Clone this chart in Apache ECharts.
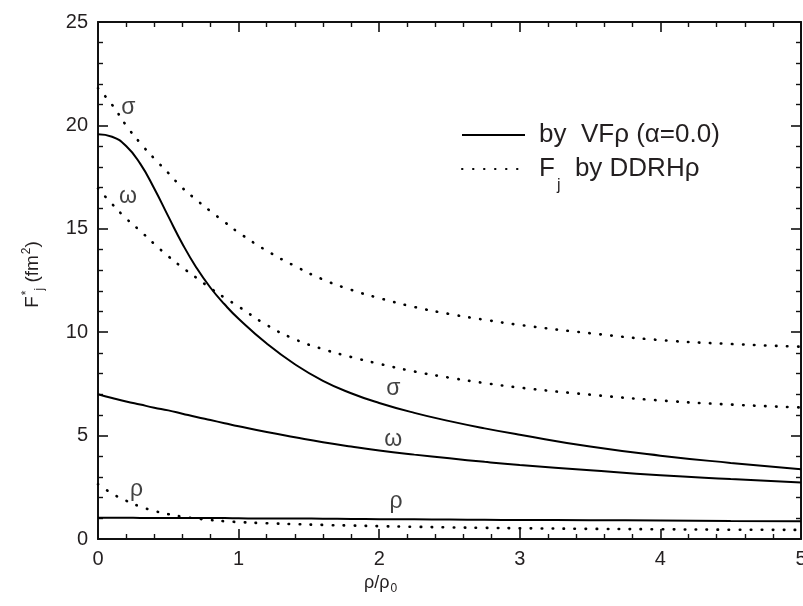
<!DOCTYPE html>
<html>
<head>
<meta charset="utf-8">
<script src="https://cdn.jsdelivr.net/npm/echarts@6/dist/echarts.min.js"></script>
<style>
html,body{margin:0;padding:0;background:#fff;}
#chart{width:803px;height:606px;}
</style>
</head>
<body>
<div id="chart"></div>
<script>
// x = rho/rho0
const xs = [0,0.1,0.2,0.3,0.4,0.5,0.6,0.7,0.8,0.9,1.0,1.2,1.4,1.6,1.8,2.0,2.25,2.5,2.75,3.0,3.5,4.0,4.5,5.0];
// solid: by VF rho (alpha = 0.0)
const sigmaVF = [19.57,19.45,19.0,18.15,16.95,15.6,14.28,13.12,12.15,11.35,10.65,9.45,8.45,7.65,7.05,6.58,6.1,5.7,5.35,5.04,4.47,4.03,3.68,3.37];
const omegaVF = [7.0,6.82,6.65,6.5,6.35,6.22,6.06,5.9,5.75,5.6,5.45,5.17,4.92,4.68,4.47,4.28,4.08,3.9,3.73,3.58,3.32,3.08,2.9,2.73];
const rhoVF   = [1.03,1.03,1.03,1.02,1.02,1.02,1.02,1.01,1.01,1.01,1.0,0.99,0.99,0.98,0.97,0.96,0.95,0.94,0.93,0.92,0.91,0.89,0.87,0.86];
// dotted: F_j by DDRH rho
const sigmaDD = [21.8,21.0,20.0,19.15,18.4,17.7,16.98,16.4,15.85,15.33,14.82,13.94,13.2,12.55,12.05,11.65,11.22,10.88,10.6,10.35,9.95,9.62,9.43,9.3];
const omegaDD = [16.95,16.2,15.5,14.9,14.27,13.67,13.13,12.63,12.13,11.67,11.24,10.35,9.66,9.18,8.8,8.47,8.1,7.8,7.54,7.32,6.98,6.7,6.5,6.36];
const rhoDD   = [2.65,2.2,1.85,1.57,1.36,1.2,1.08,0.99,0.92,0.86,0.82,0.76,0.72,0.68,0.65,0.62,0.59,0.56,0.54,0.52,0.49,0.47,0.45,0.44];
// curve annotations [x, y, text]
const annotations = [[0.216,20.87,'σ'],[0.213,16.55,'ω'],[2.1,7.28,'σ'],[2.1,4.82,'ω'],[0.275,2.37,'ρ'],[2.12,1.8,'ρ']];
const legendSolid = 'by  VFρ (α=0.0)';
const legendDotted = '{a|F}{sub|j}{a|  by DDRHρ}';

const FONT = '"Liberation Sans", Arial, Helvetica, sans-serif';
const TXT = '#231f20';
const pair = arr => xs.map((x,i)=>[x,arr[i]]);

const solidStyle = {color:'#000', width:2, type:'solid'};
const dotStyle = {color:'#000', width:2.6, type:[0.5,10.5], cap:'round'};

function mkLine(name, arr, style){
  return {type:'line', name:name, data:pair(arr), symbol:'none', smooth:true,
    lineStyle:style, itemStyle:{color:'#000'}, silent:true, animation:false, z:3};
}

const axisCommon = {
  axisLine:{show:true, onZero:false, lineStyle:{color:'#111', width:2}},
  axisTick:{show:true, inside:true, length:10, lineStyle:{color:'#111', width:1.6}},
  minorTick:{show:true, splitNumber:5, length:5, lineStyle:{color:'#111', width:1.4}},
  splitLine:{show:false}, minorSplitLine:{show:false}
};

const legendCommon = {left:456, orient:'vertical', itemWidth:63, itemHeight:14, selectedMode:false,
  itemStyle:{opacity:0, borderWidth:0}};

const chart = echarts.init(document.getElementById('chart'), null, {renderer:'canvas'});
chart.setOption({
  animation:false,
  backgroundColor:'#fff',
  grid:{left:98, right:2, top:22, bottom:67, outerBoundsMode:'none', containLabel:false},
  legend:[
    Object.assign({data:['VF'], top:117,
     formatter:()=>legendSolid,
     textStyle:{fontFamily:FONT, fontSize:26, color:TXT, padding:[0,0,0,9]}}, legendCommon),
    Object.assign({data:['DDRH'], top:151,
     formatter:()=>legendDotted,
     textStyle:{fontFamily:FONT, fontSize:26, color:TXT, padding:[0,0,0,9],
       rich:{a:{fontFamily:FONT, fontSize:26, color:TXT}, sub:{fontFamily:FONT, fontSize:16, color:TXT, padding:[34,0,0,2]}}}}, legendCommon)
  ],
  xAxis:[
    Object.assign({type:'value', min:0, max:5, interval:1, position:'bottom',
      name:'{a|ρ/ρ}{sub|0}', nameLocation:'middle', nameGap:31,
      nameTextStyle:{fontFamily:FONT, color:TXT, padding:[0,138,0,0], rich:{a:{fontFamily:FONT, fontSize:18, color:TXT}, sub:{fontFamily:FONT, fontSize:12, color:TXT, padding:[12,0,0,1]}}},
      axisLabel:{fontFamily:FONT, fontSize:20, color:TXT, margin:10}}, axisCommon),
    Object.assign({type:'value', min:0, max:5, interval:1, position:'top', axisLabel:{show:false}}, axisCommon)
  ],
  yAxis:[
    Object.assign({type:'value', min:0, max:25, interval:5, position:'left',
      name:'{a|F}{sup|*}{sub|j}{a| (fm}{sup|2}{a|)}', nameLocation:'middle', nameGap:52, nameRotate:90,
      nameTextStyle:{fontFamily:FONT, color:TXT, padding:[0,0,0,12], rich:{
        a:{fontFamily:FONT, fontSize:19, color:TXT},
        sup:{fontFamily:FONT, fontSize:12, color:TXT, padding:[0,0,12,1]},
        sub:{fontFamily:FONT, fontSize:12, color:TXT, padding:[14,0,0,0]}}},
      axisLabel:{fontFamily:FONT, fontSize:20, color:TXT, margin:10}}, axisCommon),
    Object.assign({type:'value', min:0, max:25, interval:5, position:'right', axisLabel:{show:false}}, axisCommon)
  ],
  series:[
    mkLine('VF', sigmaVF, solidStyle),
    mkLine('VF', omegaVF, solidStyle),
    mkLine('VF', rhoVF, solidStyle),
    mkLine('DDRH', sigmaDD, dotStyle),
    mkLine('DDRH', omegaDD, dotStyle),
    mkLine('DDRH', rhoDD, dotStyle),
    {type:'scatter', name:'labels', data:annotations, symbolSize:0.01, itemStyle:{color:'#000'},
     silent:true, z:4,
     label:{show:true, position:'inside', formatter:p=>p.value[2], fontFamily:FONT, fontSize:23, color:'#111'}}
  ]
});
</script>
</body>
</html>
